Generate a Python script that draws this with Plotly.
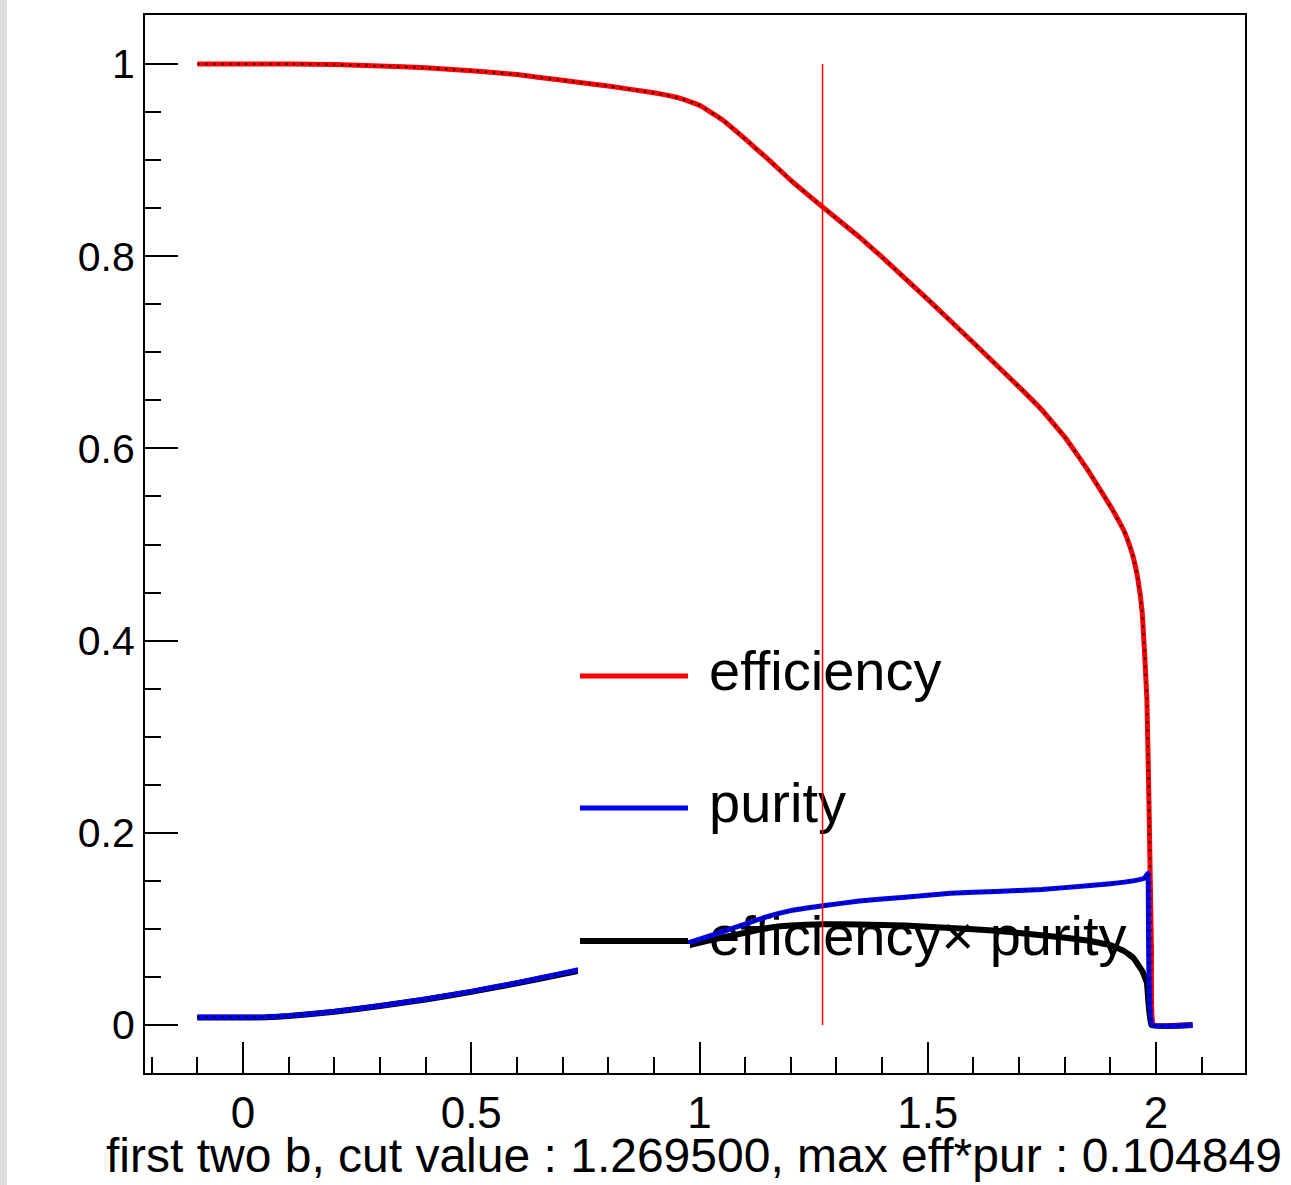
import plotly.graph_objects as go

# ---------------- data ----------------
eff_x = [-0.1, 0.0, 0.1, 0.2, 0.3, 0.4, 0.5, 0.6, 0.7, 0.8, 0.9, 0.96, 1.0, 1.05,
         1.1, 1.15, 1.2, 1.27, 1.35, 1.4, 1.5, 1.6, 1.7, 1.75, 1.8, 1.85, 1.9,
         1.93, 1.94, 1.95, 1.96, 1.97, 1.98, 1.985, 1.99, 1.995, 2.08]
eff_y = [1.0, 1.0, 1.0, 0.9995, 0.998, 0.996, 0.993, 0.989, 0.983, 0.977, 0.970,
         0.964, 0.957, 0.942, 0.922, 0.901, 0.879, 0.851, 0.820, 0.799, 0.755,
         0.710, 0.664, 0.640, 0.612, 0.578, 0.540, 0.514, 0.502, 0.487, 0.465, 0.428,
         0.340, 0.220, 0.080, 0.0, 0.0]

pur_x = [-0.1, 0.0, 0.05, 0.1, 0.2, 0.3, 0.4, 0.5, 0.6, 0.7, 0.74, 0.8, 0.9, 0.985,
         1.05, 1.1, 1.15, 1.2, 1.27, 1.35, 1.45, 1.55, 1.65, 1.75, 1.85, 1.9,
         1.95, 1.975, 1.982, 1.992, 2.08]
pur_y = [0.0080, 0.0080, 0.0083, 0.0095, 0.014, 0.020, 0.027, 0.035, 0.044, 0.054,
         0.058, 0.064, 0.075, 0.087, 0.097, 0.105, 0.113, 0.119, 0.124, 0.129,
         0.133, 0.137, 0.139, 0.141, 0.145, 0.147, 0.150, 0.153, 0.158, 0.0, 0.0]

ep_x = [-0.1, 0.0, 0.05, 0.1, 0.2, 0.3, 0.4, 0.5, 0.6, 0.7, 0.74, 0.8, 0.9, 0.985,
        1.05, 1.1, 1.15, 1.2, 1.27, 1.35, 1.45, 1.55, 1.65, 1.75, 1.85, 1.9,
        1.93, 1.95, 1.97, 1.98, 1.99, 2.08]
ep_y = [0.0078, 0.0078, 0.0081, 0.0093, 0.0138, 0.0197, 0.0265, 0.0345, 0.0433,
        0.053, 0.0568, 0.0624, 0.0727, 0.084, 0.091, 0.096, 0.101, 0.1035, 0.1048,
        0.1047, 0.1035, 0.101, 0.098, 0.0935, 0.088, 0.083, 0.077, 0.070, 0.056,
        0.044, 0.0, 0.0]

cut_value = 1.2695
max_effpur = 0.104849

legend_labels = ["efficiency", "purity", "efficiency\u00d7 purity"]
legend_colors = ["red", "blue", "black"]

x_title = "first two b, cut value : %f, max eff*pur : %f" % (cut_value, max_effpur)

# ---------------- layout geometry ----------------
W, H = 1291, 1185
L, R, T, B = 145, 1245, 15, 1073
X0PX, XSCALE = 243.0, 456.5      # pixel of x=0, pixels per unit
Y0PX, YSCALE = 1025.0, 961.0     # pixel of y=0, pixels per unit


def px2x(px):
    return (px - X0PX) / XSCALE


def py2y(py):
    return (Y0PX - py) / YSCALE


FONT = "Liberation Sans, Arial, Helvetica, sans-serif"
SMOOTH = 0.3

fig = go.Figure()

# legend texts (drawn first: curves go over them as in the reference)
leg_rows = [676, 808, 941]
fig.add_trace(go.Scatter(
    x=[px2x(709)] * 3, y=[py2y(r) for r in leg_rows], mode="text",
    text=legend_labels, textposition="middle right",
    textfont=dict(size=56, color="black", family=FONT),
    showlegend=False, hoverinfo="skip"))

# efficiency x purity (black, solid)
fig.add_trace(go.Scatter(x=ep_x, y=ep_y, mode="lines",
                         line=dict(color="black", width=6, shape="spline", smoothing=SMOOTH),
                         showlegend=False))
# efficiency (red, with dotted black overlay)
fig.add_trace(go.Scatter(x=eff_x, y=eff_y, mode="lines",
                         line=dict(color="red", width=5, shape="spline", smoothing=SMOOTH),
                         showlegend=False))
fig.add_trace(go.Scatter(x=eff_x, y=eff_y, mode="lines",
                         line=dict(color="black", width=2, dash="2px,6px",
                                   shape="spline", smoothing=SMOOTH),
                         showlegend=False))
# purity (blue, with dotted black overlay)
fig.add_trace(go.Scatter(x=pur_x, y=pur_y, mode="lines",
                         line=dict(color="blue", width=5, shape="spline", smoothing=SMOOTH),
                         showlegend=False))
fig.add_trace(go.Scatter(x=pur_x, y=pur_y, mode="lines",
                         line=dict(color="black", width=2, dash="2px,6px",
                                   shape="spline", smoothing=SMOOTH),
                         showlegend=False))

shapes = []
# white mask where the legend box hides the curves
shapes.append(dict(type="rect", xref="x", yref="y",
                   x0=px2x(578), x1=px2x(690), y0=py2y(1010), y1=py2y(944),
                   fillcolor="white", line=dict(width=0), layer="above"))
# legend lines
for r, c in zip(leg_rows, legend_colors):
    shapes.append(dict(type="line", xref="x", yref="y",
                       x0=px2x(580), x1=px2x(688), y0=py2y(r), y1=py2y(r),
                       line=dict(color=c, width=6 if c == "black" else 5),
                       layer="above"))
# grey strip on the far left of the page
shapes.append(dict(type="rect", xref="paper", yref="paper",
                   x0=(0 - L) / (R - L), x1=(7 - L) / (R - L),
                   y0=(B - H) / (B - T), y1=(B - 0) / (B - T),
                   fillcolor="#dcdcdc", line=dict(width=0), layer="above"))

# small marker dots in the legend lines
fig.add_trace(go.Scatter(x=[px2x(634)] * 2, y=[py2y(676), py2y(808)],
                         mode="markers",
                         marker=dict(color="black", size=2, symbol="square"),
                         showlegend=False, hoverinfo="skip"))

# vertical cut line
fig.add_trace(go.Scatter(x=[cut_value, cut_value], y=[0, 1], mode="lines",
                         line=dict(color="red", width=1.5), showlegend=False))

fig.update_layout(
    width=W, height=H,
    margin=dict(l=L, r=W - R, t=T, b=H - B, pad=0),
    paper_bgcolor="white", plot_bgcolor="white",
    font=dict(family=FONT, color="black"),
    shapes=shapes,
    showlegend=False,
    annotations=[dict(text=x_title, xref="paper", yref="paper",
                      x=(694 - L) / (R - L), y=(B - 1155) / (B - T),
                      xanchor="center", yanchor="middle", showarrow=False,
                      font=dict(size=48, family=FONT, color="black"))],
)

fig.update_xaxes(
    range=[px2x(L), px2x(R)], showgrid=False, zeroline=False,
    showline=True, linecolor="black", linewidth=2, mirror=True,
    tickmode="linear", tick0=0, dtick=0.5,
    ticks="inside", ticklen=31, tickwidth=2, tickcolor="black",
    tickfont=dict(size=44, family=FONT, color="black"),
    ticklabelstandoff=0,
    minor=dict(tickmode="linear", tick0=0, dtick=0.1, ticks="inside",
               ticklen=16, tickwidth=2, tickcolor="black", showgrid=False),
)
fig.update_yaxes(
    range=[py2y(B), py2y(T)], showgrid=False, zeroline=False,
    showline=True, linecolor="black", linewidth=2, mirror=True,
    tickmode="linear", tick0=0, dtick=0.2,
    ticks="inside", ticklen=33, tickwidth=2, tickcolor="black",
    tickfont=dict(size=41, family=FONT, color="black"),
    ticklabelstandoff=0,
    minor=dict(tickmode="linear", tick0=0, dtick=0.05, ticks="inside",
               ticklen=16, tickwidth=2, tickcolor="black", showgrid=False),
)

fig.write_html("out.html")
